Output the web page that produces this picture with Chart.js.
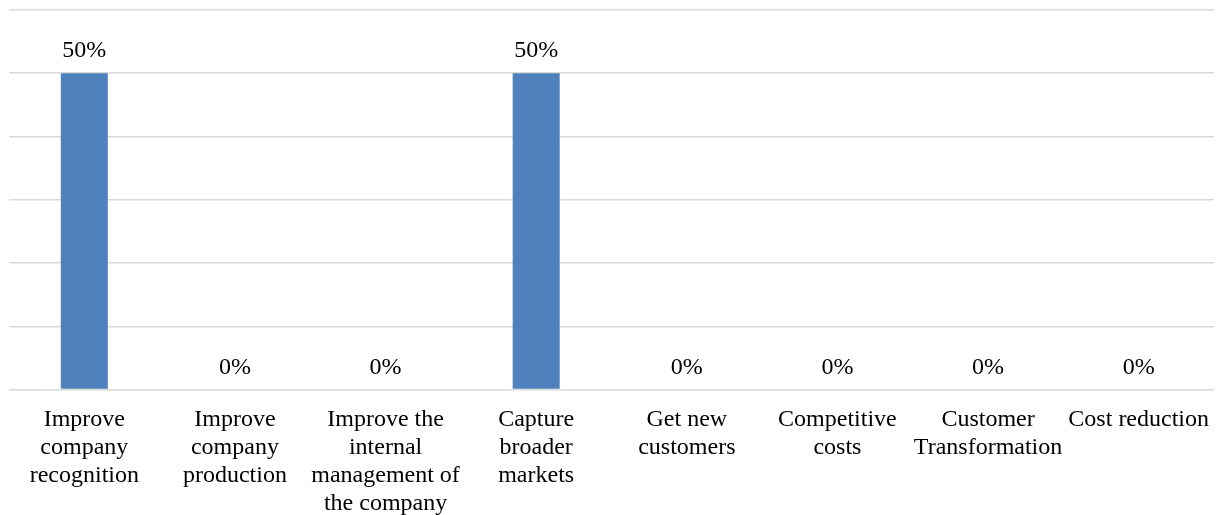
<!DOCTYPE html>
<html>
<head>
<meta charset="utf-8">
<script src="https://cdn.jsdelivr.net/npm/chart.js@4"></script>
<style>
  html, body { margin: 0; padding: 0; background: #fff; }
  #wrap { width: 1222px; height: 515px; }
</style>
</head>
<body>
<div id="wrap"><canvas id="goalsChart"></canvas></div>
<script>
// Categories (pre-wrapped into lines) and share of answers per category
const categories = [
    ['Improve', 'company', 'recognition'],
    ['Improve', 'company', 'production'],
    ['Improve the', 'internal', 'management of', 'the company'],
    ['Capture', 'broader', 'markets'],
    ['Get new', 'customers'],
    ['Competitive', 'costs'],
    ['Customer', 'Transformation'],
    ['Cost reduction']
];
const shares = [50, 0, 0, 50, 0, 0, 0, 0];
const yTicks = [0, 10, 20, 30, 40, 50, 60];

const serif = "'Liberation Serif', 'Times New Roman', serif";

// Draws the percentage above each bar
const valueLabels = {
    id: 'valueLabels',
    afterDatasetsDraw(chart) {
        const ctx = chart.ctx;
        const meta = chart.getDatasetMeta(0);
        ctx.save();
        ctx.font = '24px ' + serif;
        ctx.fillStyle = '#000';
        ctx.textAlign = 'center';
        ctx.textBaseline = 'alphabetic';
        meta.data.forEach((bar, i) => {
            ctx.fillText(shares[i] + '%', bar.x, bar.y - 16);
        });
        ctx.restore();
    }
};

const ctx = document.getElementById('goalsChart').getContext('2d');
new Chart(ctx, {
    type: 'bar',
    data: {
        labels: categories,
        datasets: [{
            data: shares,
            backgroundColor: '#4f81bd',
            barPercentage: 0.312,
            categoryPercentage: 1
        }]
    },
    options: {
        responsive: true,
        maintainAspectRatio: false,
        animation: false,
        layout: { padding: { left: 9, right: 8, top: 10, bottom: 0 } },
        plugins: {
            legend: { display: false },
            tooltip: { enabled: false }
        },
        scales: {
            x: {
                grid: { display: false },
                border: { display: false },
                ticks: {
                    color: '#000',
                    font: { family: serif, size: 24, lineHeight: '28px' },
                    maxRotation: 0,
                    autoSkip: false,
                    padding: 8
                },
                afterFit(scale) { scale.height = 125.5; }
            },
            y: {
                min: 0,
                max: 60,
                afterBuildTicks(scale) {
                    scale.ticks = yTicks.map(v => ({ value: v }));
                },
                grid: { color: '#d9d9d9', lineWidth: 1.5, drawTicks: false },
                border: { display: false },
                ticks: { display: false },
                afterFit(scale) { scale.width = 0; }
            }
        }
    },
    plugins: [valueLabels]
});
</script>
</body>
</html>
